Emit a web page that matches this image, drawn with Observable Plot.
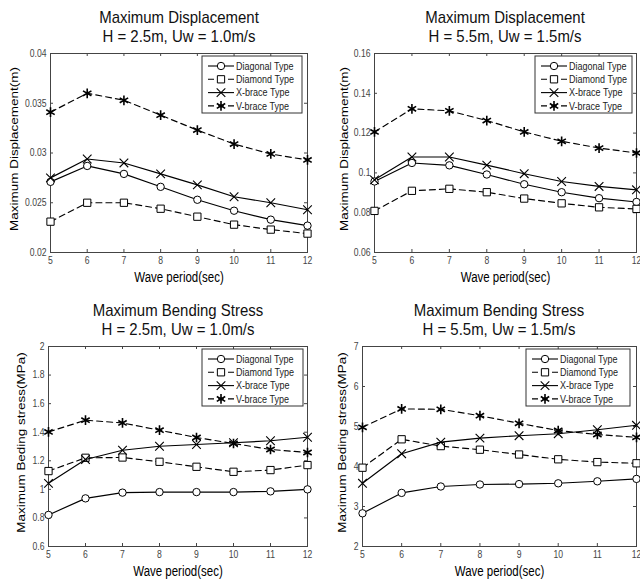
<!DOCTYPE html>
<html><head><meta charset="utf-8">
<script src="https://cdn.jsdelivr.net/npm/d3@7"></script>
<script src="https://cdn.jsdelivr.net/npm/@observablehq/plot@0.6"></script>
<style>
body{margin:0;background:#fff;}
#wrap{position:relative;width:640px;height:579px;overflow:hidden;background:#fff;font-family:"Liberation Sans",Arial,sans-serif;}
.panel{position:absolute;}
.title{position:absolute;text-align:center;font-size:17px;line-height:19px;color:#111;white-space:nowrap;transform:translateX(-50%) scaleX(0.88);}
</style></head><body><div id="wrap"></div>
<script>
// ---------- data ----------
const periods = [5, 6, 7, 8, 9, 10, 11, 12];
const seriesNames = ["Diagonal Type", "Diamond Type", "X-brace Type", "V-brace Type"];

// Maximum Displacement, H = 2.5m, Uw = 1.0m/s
const dispA_diagonal = [0.0271, 0.0287, 0.0279, 0.0266, 0.0253, 0.0242, 0.0233, 0.0227];
const dispA_diamond  = [0.0231, 0.0250, 0.0250, 0.0244, 0.0236, 0.0228, 0.0223, 0.0219];
const dispA_xbrace   = [0.0275, 0.0294, 0.0290, 0.0279, 0.0268, 0.0256, 0.0250, 0.0243];
const dispA_vbrace   = [0.0341, 0.0360, 0.0353, 0.0338, 0.0323, 0.0309, 0.0299, 0.0293];

// Maximum Displacement, H = 5.5m, Uw = 1.5m/s
const dispB_diagonal = [0.0957, 0.1050, 0.1038, 0.0992, 0.0943, 0.0903, 0.0873, 0.0854];
const dispB_diamond  = [0.0809, 0.0910, 0.0920, 0.0903, 0.0871, 0.0847, 0.0827, 0.0819];
const dispB_xbrace   = [0.0965, 0.1080, 0.1080, 0.1039, 0.0996, 0.0957, 0.0932, 0.0915];
const dispB_vbrace   = [0.1206, 0.1322, 0.1312, 0.1263, 0.1206, 0.1159, 0.1125, 0.1100];

// Maximum Bending Stress, H = 2.5m, Uw = 1.0m/s
const stressA_diagonal = [0.821, 0.937, 0.977, 0.981, 0.981, 0.981, 0.986, 1.000];
const stressA_diamond  = [1.128, 1.221, 1.223, 1.193, 1.158, 1.123, 1.135, 1.170];
const stressA_xbrace   = [1.042, 1.209, 1.274, 1.302, 1.314, 1.326, 1.340, 1.365];
const stressA_vbrace   = [1.402, 1.484, 1.465, 1.414, 1.363, 1.321, 1.279, 1.258];

// Maximum Bending Stress, H = 5.5m, Uw = 1.5m/s
const stressB_diagonal = [2.83, 3.34, 3.50, 3.55, 3.56, 3.58, 3.63, 3.69];
const stressB_diamond  = [3.97, 4.68, 4.51, 4.42, 4.30, 4.18, 4.11, 4.08];
const stressB_xbrace   = [3.58, 4.32, 4.61, 4.71, 4.77, 4.82, 4.92, 5.03];
const stressB_vbrace   = [4.98, 5.44, 5.43, 5.27, 5.08, 4.90, 4.80, 4.73];

// tick values and labels
const dispA_yTicks = [0.02, 0.025, 0.03, 0.035, 0.04];
const dispA_yLabels = ["0.02", "0.025", "0.03", "0.035", "0.04"];
const dispB_yTicks = [0.06, 0.08, 0.1, 0.12, 0.14, 0.16];
const dispB_yLabels = ["0.06", "0.08", "0.1", "0.12", "0.14", "0.16"];
const stressA_yTicks = [0.6, 0.8, 1, 1.2, 1.4, 1.6, 1.8, 2];
const stressA_yLabels = ["0.6", "0.8", "1", "1.2", "1.4", "1.6", "1.8", "2"];
const stressB_yTicks = [2, 3, 4, 5, 6, 7];
const stressB_yLabels = ["2", "3", "4", "5", "6", "7"];

const titleDisp = "Maximum Displacement";
const titleStress = "Maximum Bending Stress";
const subA = "H = 2.5m, Uw = 1.0m/s";
const subB = "H = 5.5m, Uw = 1.5m/s";
const xLabel = "Wave period(sec)";
const yLabelDisp = "Maximum Displacement(m)";
const yLabelStress = "Maximum Beding stress(MPa)";

// ---------- styles ----------
const seriesStyle = [
  {dash: null,  symbol: "circle",   dsym: d3.symbolCircle,   r: 3.7, fill: "white", sw: 1},
  {dash: "6,4", symbol: "square",   dsym: d3.symbolSquare,   r: 4.1, fill: "white", sw: 1},
  {dash: null,  symbol: "times",    dsym: d3.symbolTimes,    r: 4.0, fill: "none",  sw: 1.1},
  {dash: "6,4", symbol: "asterisk", dsym: d3.symbolAsterisk, r: 4.6, fill: "none",  sw: 1.6}
];

const panels = [
  {left: 0, top: 0, width: 320, height: 290, ml: 50, mr: 13, mt: 53, mb: 38,
   domain: [0.02, 0.04], yTicks: dispA_yTicks, yLabels: dispA_yLabels,
   series: [dispA_diagonal, dispA_diamond, dispA_xbrace, dispA_vbrace],
   title: titleDisp, sub: subA, yLabel: yLabelDisp, yLabelDx: -36, xLabelDy: 25, legendRight: 5, legendW: 100},
  {left: 320, top: 0, width: 320, height: 290, ml: 54, mr: 4, mt: 53, mb: 38,
   domain: [0.06, 0.16], yTicks: dispB_yTicks, yLabels: dispB_yLabels,
   series: [dispB_diagonal, dispB_diamond, dispB_xbrace, dispB_vbrace],
   title: titleDisp, sub: subB, yLabel: yLabelDisp, yLabelDx: -30, xLabelDy: 25, legendRight: 4, legendW: 97},
  {left: 0, top: 290, width: 320, height: 289, ml: 48, mr: 13, mt: 56, mb: 33,
   domain: [0.6, 2], yTicks: stressA_yTicks, yLabels: stressA_yLabels,
   series: [stressA_diagonal, stressA_diamond, stressA_xbrace, stressA_vbrace],
   title: titleStress, sub: subA, yLabel: yLabelStress, yLabelDx: -27, xLabelDy: 25.5, legendRight: 4, legendW: 101},
  {left: 320, top: 290, width: 320, height: 289, ml: 42, mr: 4, mt: 56, mb: 33,
   domain: [2, 7], yTicks: stressB_yTicks, yLabels: stressB_yLabels,
   series: [stressB_diagonal, stressB_diamond, stressB_xbrace, stressB_vbrace],
   title: titleStress, sub: subB, yLabel: yLabelStress, yLabelDx: -20, xLabelDy: 25.5, legendRight: 6, legendW: 104}
];

const wrap = document.getElementById("wrap");
const FONT = '"Liberation Sans",Arial,sans-serif';

// give every SVG text the narrow look of the original figure
function narrowTexts(svg) {
  svg.querySelectorAll("text").forEach(t => {
    const tr = t.getAttribute("transform") || "";
    const sc = tr.includes("rotate") ? "scale(1,0.85)" : "scale(0.82,1)";
    t.setAttribute("transform", `${tr} ${sc}`.trim());
  });
}

function makePanel(cfg) {
  const innerW = cfg.width - cfg.ml - cfg.mr;
  const innerH = cfg.height - cfg.mt - cfg.mb;
  const rows = [];
  cfg.series.forEach((vals, i) => vals.forEach((v, j) => rows.push({series: seriesNames[i], idx: i, x: periods[j], y: v})));
  const marks = [];
  // inward ticks on all four sides
  marks.push(Plot.tickY(cfg.yTicks, {y: d => d, insetRight: innerW - 3, stroke: "#444"}));
  marks.push(Plot.tickY(cfg.yTicks, {y: d => d, insetLeft: innerW - 3, stroke: "#444"}));
  marks.push(Plot.tickX(periods, {x: d => d, insetTop: innerH - 3, stroke: "#444"}));
  marks.push(Plot.tickX(periods, {x: d => d, insetBottom: innerH - 3, stroke: "#444"}));
  marks.push(Plot.frame({stroke: "#444"}));
  seriesNames.forEach((name, i) => {
    const s = seriesStyle[i];
    const data = rows.filter(r => r.idx === i);
    marks.push(Plot.line(data, {x: "x", y: "y", stroke: "#000", strokeWidth: 1.15, strokeDasharray: s.dash}));
    marks.push(Plot.dot(data, {x: "x", y: "y", symbol: s.symbol, r: s.r, stroke: "#000", fill: s.fill, strokeWidth: s.sw}));
  });
  marks.push(Plot.axisX(periods, {tickSize: 0, tickPadding: 4, fontSize: 10.5, fill: "#444", label: null, tickFormat: d => String(d)}));
  marks.push(Plot.axisY(cfg.yTicks, {tickSize: 0, tickPadding: 4, fontSize: 10.5, fill: "#444", label: null,
    tickFormat: d => cfg.yLabels[cfg.yTicks.indexOf(d)]}));
  marks.push(Plot.text([xLabel], {frameAnchor: "bottom", dy: cfg.xLabelDy, lineAnchor: "middle", text: d => d, fontSize: 14, fill: "#000", textAnchor: "middle"}));
  marks.push(Plot.text([cfg.yLabel], {frameAnchor: "left", dx: cfg.yLabelDx, dy: -4, rotate: -90, text: d => d, fontSize: 13.5, fill: "#000", textAnchor: "middle"}));

  const svg = Plot.plot({
    width: cfg.width, height: cfg.height,
    marginLeft: cfg.ml, marginRight: cfg.mr, marginTop: cfg.mt, marginBottom: cfg.mb,
    style: {fontFamily: FONT, background: "white", overflow: "visible"},
    x: {domain: [5, 12]},
    y: {domain: cfg.domain},
    marks
  });

  // legend box in the top-right corner of the frame
  const lw = cfg.legendW, lh = 57;
  const g = d3.select(svg).append("g")
    .attr("transform", `translate(${cfg.width - cfg.mr - cfg.legendRight - lw},${cfg.mt + 3})`);
  g.append("rect").attr("width", lw).attr("height", lh).attr("fill", "white").attr("stroke", "#333").attr("stroke-width", 1);
  seriesNames.forEach((name, i) => {
    const s = seriesStyle[i];
    const y = 10 + i * 13.3;
    g.append("line").attr("x1", 6).attr("x2", 32).attr("y1", y).attr("y2", y)
      .attr("stroke", "#000").attr("stroke-width", 1.1).attr("stroke-dasharray", s.dash);
    g.append("path").attr("transform", `translate(19,${y})`)
      .attr("d", d3.symbol(s.dsym, s.r * s.r * Math.PI)())
      .attr("fill", s.fill).attr("stroke", "#000").attr("stroke-width", s.sw);
    g.append("text").attr("transform", `translate(34,${y})`).attr("dy", "0.35em")
      .attr("text-anchor", "start")
      .attr("font-size", 11).attr("fill", "#222").text(name);
  });

  narrowTexts(svg);

  const div = document.createElement("div");
  div.className = "panel";
  div.style.left = cfg.left + "px";
  div.style.top = cfg.top + "px";
  div.appendChild(svg);
  wrap.appendChild(div);

  const cx = cfg.left + cfg.ml + innerW / 2;
  const t = document.createElement("div");
  t.className = "title";
  t.style.left = cx + "px";
  t.style.top = (cfg.top + cfg.mt - 45) + "px";
  const l1 = document.createElement("div"); l1.textContent = cfg.title;
  const l2 = document.createElement("div"); l2.textContent = cfg.sub;
  t.appendChild(l1); t.appendChild(l2);
  wrap.appendChild(t);
}

panels.forEach(makePanel);
</script>
</body></html>
